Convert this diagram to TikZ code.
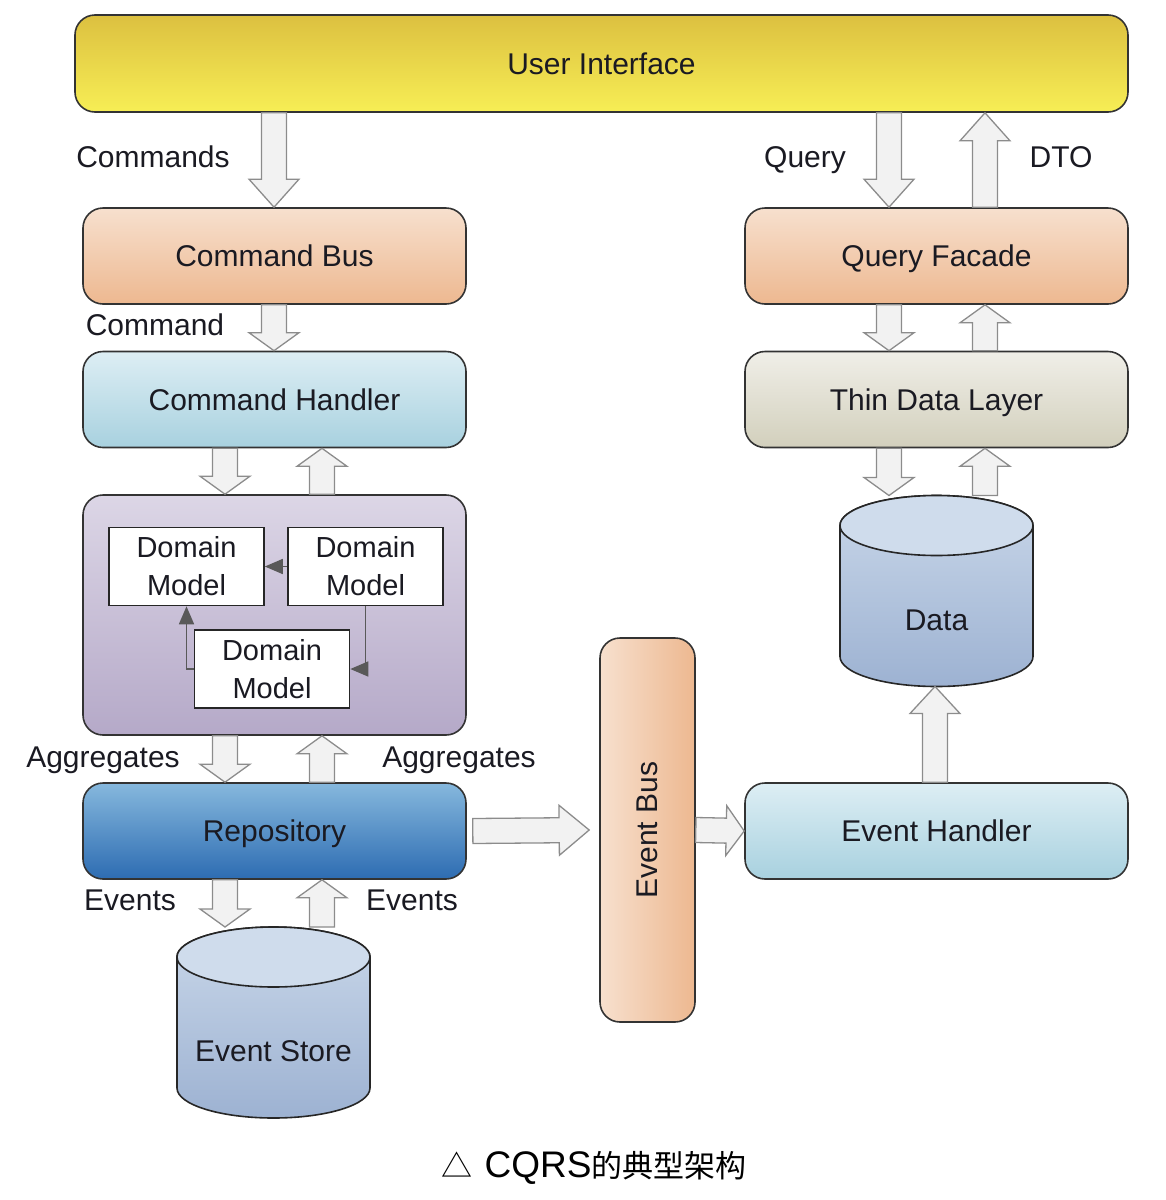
\documentclass[tikz,border=0pt]{standalone}
\usepackage{graphicx}
\usepackage{fontspec}
\setmainfont{Liberation Sans}
\newfontfamily\cjk{Noto Sans CJK SC}
\usetikzlibrary{arrows.meta,calc}

\definecolor{uitop}{HTML}{DCC040}
\definecolor{uibot}{HTML}{F7EE55}
\definecolor{bustop}{HTML}{F7E0CE}
\definecolor{busbot}{HTML}{EDB890}
\definecolor{handtop}{HTML}{DDEEF4}
\definecolor{handbot}{HTML}{A8D1DF}
\definecolor{domtop}{HTML}{DCD6E6}
\definecolor{dombot}{HTML}{B5A9C8}
\definecolor{repotop}{HTML}{86B8DD}
\definecolor{repobot}{HTML}{2D6CB2}
\definecolor{thintop}{HTML}{F0EFE8}
\definecolor{thinbot}{HTML}{D2CFBC}
\definecolor{dbtop}{HTML}{C9D7E9}
\definecolor{dbbot}{HTML}{9DB2D2}
\definecolor{dbcap}{HTML}{CFDCEC}
\definecolor{ink}{HTML}{1A1A22}

\tikzset{
  layer/.style={draw=black!80, line width=1.6pt, rounded corners=20pt,
    minimum width=383pt, minimum height=96pt, inner sep=0pt,
    font=\fontsize{30}{34}\selectfont, text=ink, text height=21pt, text depth=0pt},
  busv/.style={draw=black!80, line width=1.6pt, rounded corners=20pt,
    minimum width=95pt, minimum height=384pt, inner sep=0pt,
    font=\fontsize{30}{34}\selectfont, text=ink},
  dm/.style={draw=black!85, fill=white, line width=1.6pt, minimum width=155pt,
    minimum height=78pt, inner sep=0pt, align=center,
    font=\fontsize{29}{38}\selectfont, text=ink},
  dmarrow/.style={draw=black!65, line width=1.6pt, -{Triangle[length=18pt,width=15pt]}},
  lbl/.style={font=\fontsize{30}{34}\selectfont, text=ink, inner sep=0pt,
    text height=21pt, text depth=0pt},
  db/.style={minimum width=193pt, minimum height=191pt, inner sep=0pt, outer sep=0pt},
  dbline/.style={draw=black!85, line width=1.6pt},
  fat/.style={draw=black!45, fill=black!5, line width=1.3pt, line join=miter,
    to path={let \p1=(\tikztostart), \p2=(\tikztotarget),
      \n1={atan2(\y2-\y1,\x2-\x1)}, \n2={veclen(\x2-\x1,\y2-\y1)} in
      {[shift={(\p1)}, rotate=\n1]
      (0pt,-12.5pt) -- (\n2-#1,-12.5pt) -- (\n2-#1,-25pt) -- (\n2,0pt)
      -- (\n2-#1,25pt) -- (\n2-#1,12.5pt) -- (0pt,12.5pt) -- cycle}}},
  fat/.default=28pt
}

% cylinder behind a db node
\newcommand{\dbcyl}[1]{%
  \draw[dbline, top color=dbtop, bottom color=dbbot]
    ([yshift=-30pt]#1.north west) -- ([yshift=30pt]#1.south west)
    arc[start angle=180, end angle=360, x radius=96.5pt, y radius=30pt]
    -- ([yshift=-30pt]#1.north east)
    arc[start angle=0, end angle=180, x radius=96.5pt, y radius=30pt] -- cycle;
  \draw[dbline, fill=dbcap] ([yshift=-30pt]#1.north) ellipse [x radius=96.5pt, y radius=30pt];}

\begin{document}
\begin{tikzpicture}[x=1pt,y=1pt]
\useasboundingbox (0,0) rectangle (1166,-1200);
% command side
\node[layer, top color=uitop, bottom color=uibot, minimum width=1053pt, minimum height=97pt] (ui) at (601.5,-63.5) {User Interface};
\node[layer, top color=bustop, bottom color=busbot] (cbus) at (274.5,-256) {Command Bus};
\node[layer, top color=handtop, bottom color=handbot] (chand) at (274.5,-399.5) {Command Handler};
\node[layer, top color=domtop, bottom color=dombot, minimum height=240pt] (dom) at (274.5,-615) {};
\node[dm] (dmA) at (186.5,-566.5) {Domain\\Model};
\node[dm] (dmB) at (365.5,-566.5) {Domain\\Model};
\node[dm] (dmC) at (272,-669) {Domain\\Model};
\node[layer, top color=repotop, bottom color=repobot] (repo) at (274.5,-831) {Repository};
\node[db] (es) at (273.5,-1022.5) {};
\dbcyl{es}
\node[lbl] (estxt) at ([yshift=-28pt]es.center) {Event Store};
\node[busv, left color=bustop, right color=busbot] (ebus) at (647.5,-830) {\rotatebox{90}{Event Bus}};
% query side
\node[layer, top color=bustop, bottom color=busbot] (qf) at (936.5,-256) {Query Facade};
\node[layer, top color=thintop, bottom color=thinbot] (tdl) at (936.5,-399.5) {Thin Data Layer};
\node[db] (data) at (936.5,-591) {};
\dbcyl{data}
\node[lbl] (datatxt) at ([yshift=-29pt]data.center) {Data};
\node[layer, top color=handtop, bottom color=handbot] (eh) at (936.5,-831) {Event Handler};

\coordinate (cx) at (274,0);
\coordinate (dx) at (225,0);
\coordinate (ux) at (322,0);
\coordinate (qx) at (889,0);
\coordinate (tx) at (985,0);
\coordinate (hx) at (935,0);

\draw[fat] (ui.south -| cx) to (cbus.north -| cx);
\draw[fat=18pt] (cbus.south -| cx) to (chand.north -| cx);
\draw[fat=18pt] (chand.south -| dx) to (dom.north -| dx);
\draw[fat=18pt] (dom.north -| ux) to (chand.south -| ux);
\draw[fat=18pt] (dom.south -| dx) to (repo.north -| dx);
\draw[fat=18pt] (repo.north -| ux) to (dom.south -| ux);
\draw[fat=18pt] (repo.south -| dx) to (es.north -| dx);
\draw[fat=18pt] (es.north -| ux) to (repo.south -| ux);
\draw[fat=30pt] ([xshift=6pt]repo.east) to ([xshift=-10pt]ebus.west);
\draw[fat=18pt] (ebus.east) to (eh.west);
\draw[fat=27pt] (eh.north -| hx) to (data.south -| hx);
\draw[fat] (ui.south -| qx) to (qf.north -| qx);
\draw[fat] (qf.north -| tx) to (ui.south -| tx);
\draw[fat=18pt] (qf.south -| qx) to (tdl.north -| qx);
\draw[fat=18pt] (tdl.north -| tx) to (qf.south -| tx);
\draw[fat=18pt] (tdl.south -| qx) to (data.north -| qx);
\draw[fat=18pt] (data.north -| tx) to (tdl.south -| tx);

\draw[dmarrow] (dmB) -- (dmA);
\draw[dmarrow] (dmC.west) -| (dmA.south);
\draw[dmarrow] (dmB.south) |- (dmC.east);

\node[lbl] (lcmds) at (153,-157) {Commands};
\node[lbl] (lcmd) at (155,-325) {Command};
\node[lbl] (lqry) at (805,-157) {Query};
\node[lbl] (ldto) at (1061,-157) {DTO};
\node[lbl] (laggl) at (103,-757) {Aggregates};
\node[lbl] (laggr) at (459,-757) {Aggregates};
\node[lbl] (levl) at (130,-900) {Events};
\node[lbl] (levr) at (412,-900) {Events};

\node (cap) at (594,-1168) {{\cjk\fontsize{31}{34}\selectfont △}\hspace{12pt}{\fontsize{37}{42}\selectfont CQRS}{\cjk\fontsize{31}{34}\selectfont 的典型架构}};
\end{tikzpicture}
\end{document}
